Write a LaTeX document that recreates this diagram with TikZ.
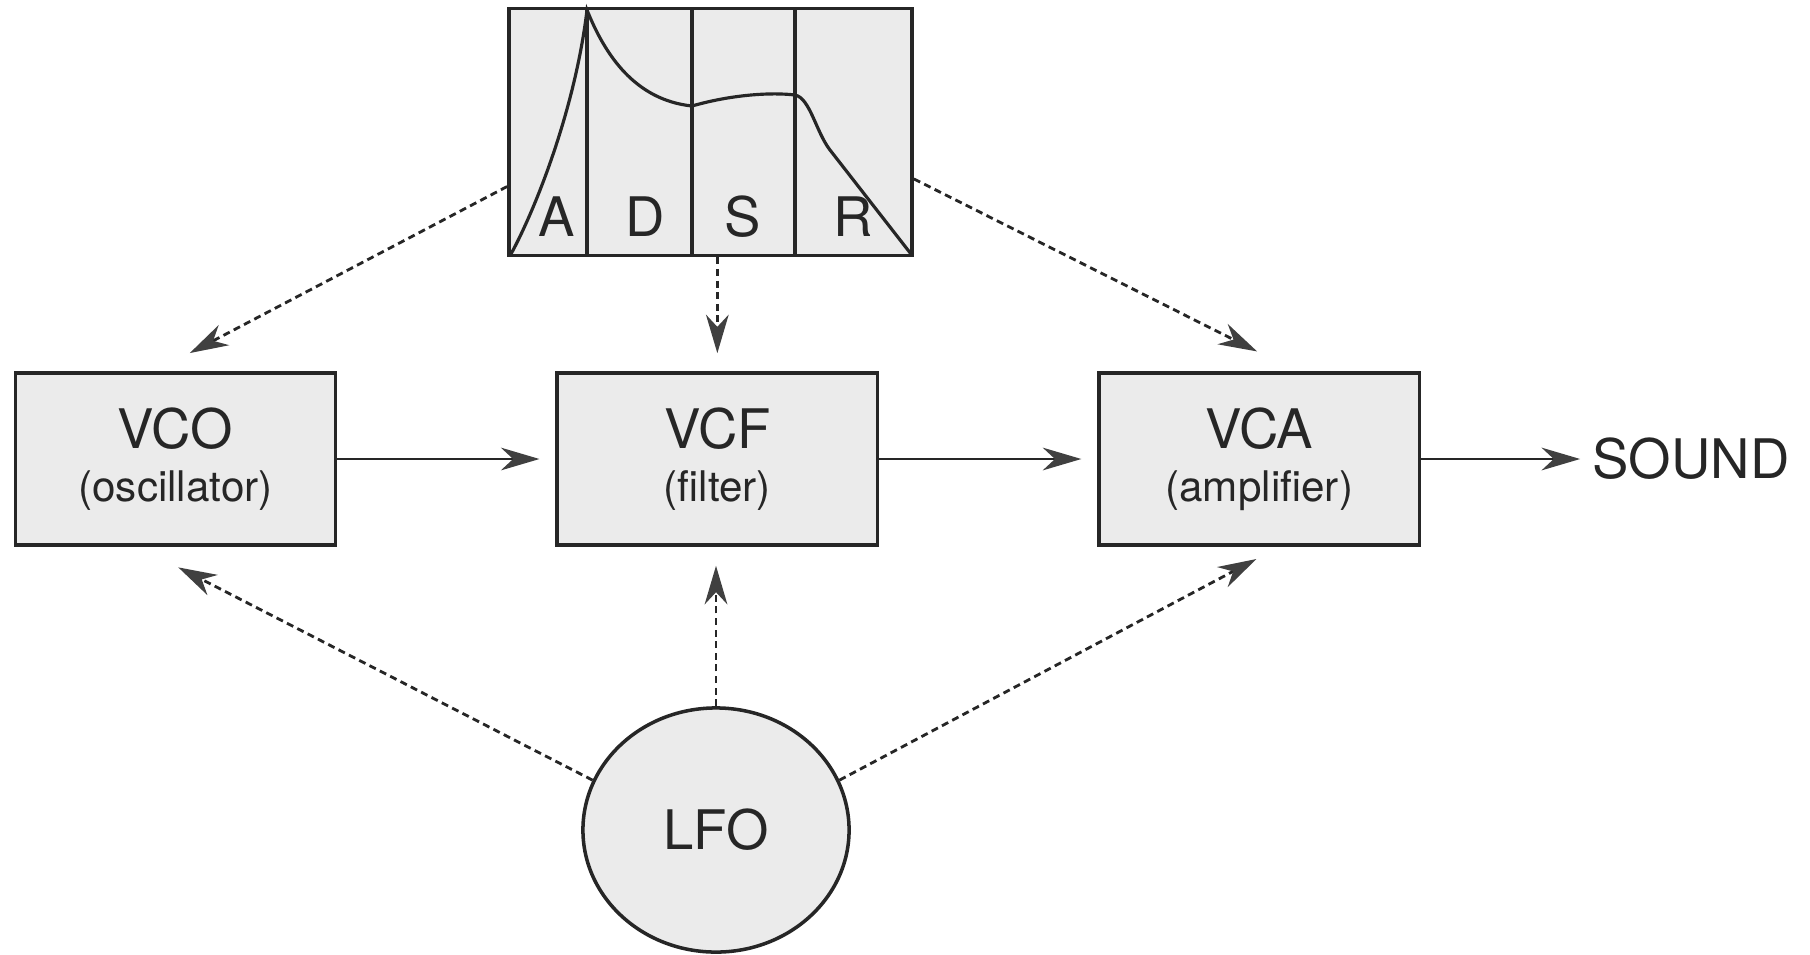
\documentclass[tikz,border=0pt]{standalone}
\usepackage{fontspec}
\setmainfont{TeX Gyre Heros}
\usetikzlibrary{arrows.meta,positioning,shapes.geometric}
\newcommand{\subname}[1]{{\fontsize{12}{14}\selectfont #1}}

\begin{document}
\begin{tikzpicture}[x=0.01cm,y=-0.01cm,
		>={Stealth[length=11pt,width=6.5pt,inset=3.5pt,line width=0pt,fill=black!75]},
		font=\fontsize{15.5}{15}\selectfont,text=black!85,
		block/.style={draw=black!85,line width=1pt,fill=black!8,minimum width=3.2cm,minimum height=1.72cm,align=center},
		sig/.style={draw=black!85,line width=0.8pt},
		mod/.style={sig,dash pattern=on 2pt off 1.3pt}
	]
		\useasboundingbox (0,0) rectangle (1810,954);
		\node[block] (vco) at (175.5,459) {VCO\\\subname{(oscillator)}};
		\node[block,right=2.18cm of vco] (vcf) {VCF\\\subname{(filter)}};
		\node[block,right=2.18cm of vcf] (vca) {VCA\\\subname{(amplifier)}};
		\node[right=1.59cm of vca] (sound) {SOUND};
		\node[block,minimum width=4.03cm,minimum height=2.47cm] (adsr) at (710.5,132) {};
		\node[block,ellipse,minimum width=2.66cm,minimum height=2.44cm] (lfo) at (716,830) {LFO};
		% envelope inside the ADSR box
		\foreach \x in {587,692,795}
			\draw[draw=black!85,line width=0.9pt] (\x,8.5) -- (\x,255.5);
		\draw[draw=black!85,line width=0.9pt] (511,254) .. controls (535,210) and (575,110) .. (587,10)
			.. controls (605,55) and (635,100) .. (692,106)
			.. controls (730,95) and (770,92) .. (795,95)
			.. controls (810,98) and (816,132) .. (830,150) -- (911,254);
		\foreach \s/\x in {A/557,D/645,S/743,R/853}
			\node (seg\s) at (\x,217) {\s};
		\path[->]
			(vco) edge[sig,shorten >=0.16cm] (vcf)
			(vcf) edge[sig,shorten >=0.16cm] (vca)
			(vca) edge[sig] (sound)
			(adsr.195) edge[mod,shorten >=0.39cm] (vco.103)
			(vcf.north |- adsr.south) edge[mod,shorten >=0.18cm] (vcf.north)
			(adsr.-13) edge[mod,shorten >=0.44cm] (vca.67)
			(lfo.158) edge[mod,shorten >=0.45cm] (vco.247)
			(lfo.north) edge[mod,shorten >=0.19cm] (lfo.north |- vcf.south)
			(lfo.22) edge[mod,shorten >=0.26cm] (vca.-77)
		;
	\end{tikzpicture}
\end{document}
